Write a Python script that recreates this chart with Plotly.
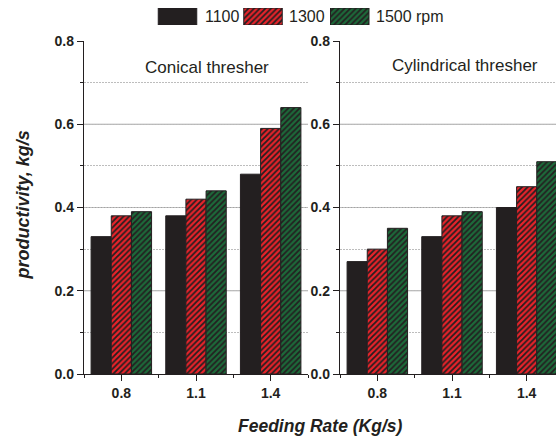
import plotly.graph_objects as go

# ---- data ----
feed_rates = ["0.8", "1.1", "1.4"]
speeds = ["1100", "1300", "1500 rpm"]
conical_1100 = [0.33, 0.38, 0.48]
conical_1300 = [0.38, 0.42, 0.59]
conical_1500 = [0.39, 0.44, 0.64]
cylind_1100 = [0.27, 0.33, 0.40]
cylind_1300 = [0.30, 0.38, 0.45]
cylind_1500 = [0.35, 0.39, 0.51]
panel_titles = ["Conical thresher", "Cylindrical thresher"]
y_ticks = [0.0, 0.2, 0.4, 0.6, 0.8]
y_major_grid = [0.2, 0.4, 0.6]

W, H = 556, 437
FONT = "Liberation Sans, Arial, sans-serif"
DARK = "#231f20"
fills = [DARK, "#e8232a", "#1c6a3a"]
patterns = ["", "/", "/"]

def px(x):
    return x / W

def py(y):
    return 1 - y / H

def marker_for(i):
    m = dict(color=fills[i], line=dict(color=DARK, width=1))
    if patterns[i]:
        m["pattern"] = dict(shape=patterns[i], fgcolor=DARK, bgcolor=fills[i],
                            fillmode="replace", size=4, solidity=0.45)
    return m

fig = go.Figure()
xpos = list(range(len(feed_rates)))

panels = [
    ("x", "y", [conical_1100, conical_1300, conical_1500]),
    ("x2", "y2", [cylind_1100, cylind_1300, cylind_1500]),
]
for xa, ya, series in panels:
    for i, vals in enumerate(series):
        fig.add_trace(go.Bar(
            x=xpos, y=vals, name=speeds[i], xaxis=xa, yaxis=ya,
            marker=marker_for(i), showlegend=False,
        ))

# ---- manual legend (swatches on a hidden axis) ----
leg_box_x = [177.5, 263.0, 349.75]
leg_box_w = 38.5
leg_text_x = [203, 287, 374]
for i in range(3):
    fig.add_trace(go.Bar(
        x=[leg_box_x[i]], y=[1], width=[leg_box_w], xaxis="x3", yaxis="y3",
        marker=marker_for(i), showlegend=False, hoverinfo="skip",
    ))
    fig.add_annotation(x=px(leg_text_x[i]), y=py(16.5), xref="paper", yref="paper",
                       text=speeds[i], showarrow=False, xanchor="left", yanchor="middle",
                       font=dict(family=FONT, size=16, color=DARK))

ydom = [py(374), py(41)]
y_common = dict(
    range=[0, 0.8], domain=ydom, tickvals=y_ticks, ticktext=[f"{v:.1f}" for v in y_ticks],
    showline=True, linecolor=DARK, linewidth=1.3, ticks="outside", ticklen=6,
    tickcolor=DARK, tickwidth=1, showgrid=False, zeroline=False, automargin=False,
    tickfont=dict(family=FONT, size=14, color=DARK, weight="bold"),
    minor=dict(dtick=0.1, tick0=0, ticks="outside", ticklen=3, tickcolor=DARK,
               showgrid=True, griddash="1.5px,1.5px", gridcolor="#bdbdbd", gridwidth=1),
)
x_common = dict(
    tickvals=xpos, ticktext=feed_rates, showline=True, linecolor=DARK, linewidth=1.3,
    ticks="outside", ticklen=6, tickcolor=DARK, tickwidth=1, showgrid=False, zeroline=False,
    automargin=False,
    tickfont=dict(family=FONT, size=14, color=DARK, weight="bold"),
    minor=dict(tickvals=[-0.5, 0.5, 1.5, 2.5], ticks="outside", ticklen=3, tickcolor=DARK),
)
unit = (308 - 84) / 3.0
fig.update_layout(
    template="none",
    width=W, height=H, margin=dict(l=0, r=0, t=0, b=0, pad=0), autosize=False,
    paper_bgcolor="white", plot_bgcolor="white",
    barmode="group", bargap=0.19, bargroupgap=0,
    xaxis=dict(domain=[px(84), px(308)], range=[-0.5, 2.5], anchor="y", **x_common),
    xaxis2=dict(domain=[px(340), 1.0], range=[-0.5, -0.5 + (W - 340) / unit], anchor="y2", **x_common),
    yaxis=dict(anchor="x", **y_common),
    yaxis2=dict(anchor="x2", **y_common),
    xaxis3=dict(domain=[0, 1], range=[0, W], visible=False, anchor="y3", fixedrange=True,
                automargin=False),
    yaxis3=dict(domain=[py(25), py(8)], range=[0, 1], visible=False, anchor="x3", fixedrange=True,
                automargin=False),
)

# major grid lines (no line at the 0.8 top)
for xr, yr in [("x domain", "y"), ("x2 domain", "y2")]:
    for g in y_major_grid:
        fig.add_shape(type="line", xref=xr, yref=yr, x0=0, x1=1, y0=g, y1=g,
                      line=dict(color="#a3a3a3", width=1), layer="below")

# panel titles
fig.add_annotation(x=px(207), y=py(68), xref="paper", yref="paper", text=panel_titles[0],
                   showarrow=False, xanchor="center", yanchor="middle",
                   font=dict(family=FONT, size=17, color=DARK))
fig.add_annotation(x=px(465), y=py(66), xref="paper", yref="paper", text=panel_titles[1],
                   showarrow=False, xanchor="center", yanchor="middle",
                   font=dict(family=FONT, size=17, color=DARK))

# axis titles
fig.add_annotation(x=px(319.5), y=py(426), xref="paper", yref="paper",
                   text="<b><i>Feeding Rate (Kg/s)</i></b>", showarrow=False,
                   xanchor="center", yanchor="middle",
                   font=dict(family=FONT, size=17.5, color=DARK))
fig.add_annotation(x=px(22.5), y=py(205), xref="paper", yref="paper",
                   text="<b><i>productivity, kg/s</i></b>", showarrow=False, textangle=-90,
                   xanchor="center", yanchor="middle",
                   font=dict(family=FONT, size=18, color=DARK))

fig.write_html("out.html")
